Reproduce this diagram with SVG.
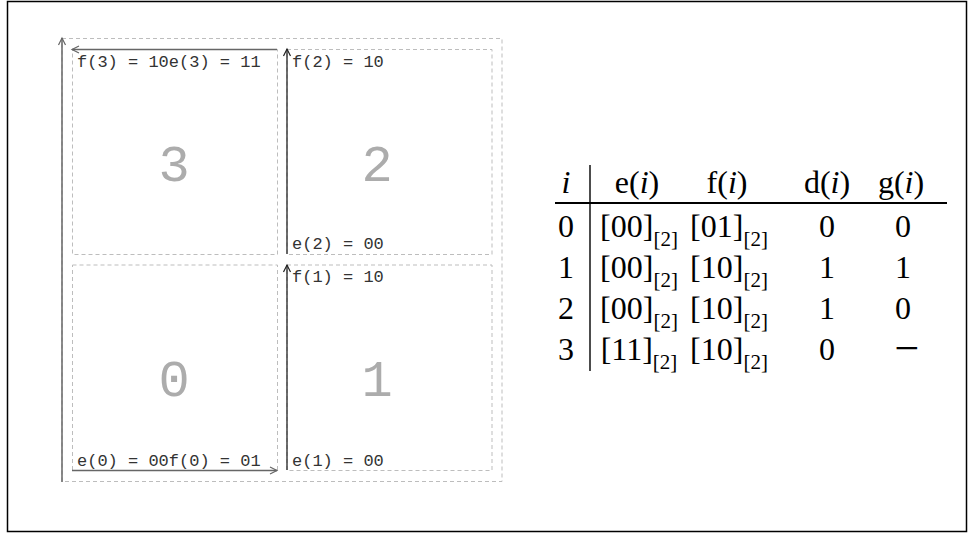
<svg xmlns="http://www.w3.org/2000/svg" width="969" height="535" viewBox="0 0 969 535">
<defs>
<style>
.frame{fill:#fff;stroke:#000;stroke-width:1.5}
.dash{fill:none;stroke:#bdbdbd;stroke-width:1;stroke-dasharray:4 3}
.big{font-family:"Liberation Mono",monospace;font-size:52px;fill:#acacac;text-anchor:middle}
.lbl{font-family:"Liberation Mono",monospace;font-size:17px;fill:#333}
.arr{fill:none;stroke:#666;stroke-width:1.5;marker-end:url(#ah)}
.arrd{fill:none;stroke:#222;stroke-width:1.3;marker-end:url(#ah)}
.tx{font-family:"Liberation Serif",serif;font-size:32px;fill:#000;text-anchor:middle}
.sub{font-size:21px}
.it{font-style:italic}
.minus{font-size:44px}
</style>
<marker id="ah" markerWidth="10" markerHeight="10" viewBox="-8 -5 10 10" refX="0" refY="0" orient="auto" markerUnits="userSpaceOnUse">
<path d="M -7 -3.5 L 0 0 L -7 3.5" fill="none" stroke="context-stroke" stroke-width="1.2"/>
</marker>
</defs>
<rect class="frame" x="7.5" y="1.5" width="959" height="530"/>
<g id="outer"><rect class="dash" x="62" y="38.5" width="440" height="443"/></g>
<g id="q3">
<rect class="dash" x="72.5" y="49.5" width="205" height="205"/>
<text class="big" x="174" y="181">3</text>
<text class="lbl" x="77" y="67">f(3) = 10e(3) = 11</text>
</g>
<g id="q2">
<rect class="dash" x="287" y="49.5" width="205" height="205"/>
<text class="big" x="377" y="181">2</text>
<text class="lbl" x="292" y="67">f(2) = 10</text>
<text class="lbl" x="292" y="249">e(2) = 00</text>
</g>
<g id="q0">
<rect class="dash" x="72.5" y="265" width="205" height="205.5"/>
<text class="big" x="174" y="396">0</text>
<text class="lbl" x="77" y="466">e(0) = 00f(0) = 01</text>
</g>
<g id="q1">
<rect class="dash" x="287" y="265" width="205" height="205.5"/>
<text class="big" x="377" y="396">1</text>
<text class="lbl" x="292" y="282">f(1) = 10</text>
<text class="lbl" x="292" y="466">e(1) = 00</text>
</g>
<g id="connectors">
<line class="arr" x1="62" y1="482" x2="62" y2="38"/>
<line class="arr" x1="277" y1="49.5" x2="72" y2="49.5"/>
<line class="arr" x1="72" y1="470.5" x2="277" y2="470.5"/>
<line class="arrd" x1="287" y1="254" x2="287" y2="49"/>
<line class="arrd" x1="287" y1="470" x2="287" y2="265"/>
</g>
<g id="table">
<line x1="590" y1="165" x2="590" y2="371" stroke="#000" stroke-width="1.4"/>
<line x1="555" y1="203" x2="947" y2="203" stroke="#000" stroke-width="2.2"/>
<text class="tx it" x="566" y="193">i</text>
<text class="tx" x="637" y="193">e(<tspan class="it">i</tspan>)</text>
<text class="tx" x="727" y="193">f(<tspan class="it">i</tspan>)</text>
<text class="tx" x="827" y="193">d(<tspan class="it">i</tspan>)</text>
<text class="tx" x="901" y="193">g(<tspan class="it">i</tspan>)</text>

<text class="tx" x="566" y="237">0</text>
<text class="tx" x="639" y="237">[00]<tspan class="sub" dy="9">[2]</tspan></text>
<text class="tx" x="729" y="237">[01]<tspan class="sub" dy="9">[2]</tspan></text>
<text class="tx" x="827" y="237">0</text>
<text class="tx" x="903" y="237">0</text>

<text class="tx" x="566" y="278">1</text>
<text class="tx" x="639" y="278">[00]<tspan class="sub" dy="9">[2]</tspan></text>
<text class="tx" x="729" y="278">[10]<tspan class="sub" dy="9">[2]</tspan></text>
<text class="tx" x="827" y="278">1</text>
<text class="tx" x="903" y="278">1</text>

<text class="tx" x="566" y="319">2</text>
<text class="tx" x="639" y="319">[00]<tspan class="sub" dy="9">[2]</tspan></text>
<text class="tx" x="729" y="319">[10]<tspan class="sub" dy="9">[2]</tspan></text>
<text class="tx" x="827" y="319">1</text>
<text class="tx" x="903" y="319">0</text>

<text class="tx" x="566" y="360">3</text>
<text class="tx" x="639" y="360">[11]<tspan class="sub" dy="9">[2]</tspan></text>
<text class="tx" x="729" y="360">[10]<tspan class="sub" dy="9">[2]</tspan></text>
<text class="tx" x="827" y="360">0</text>
<text class="tx minus" x="907" y="363">−</text>
</g>
</svg>
